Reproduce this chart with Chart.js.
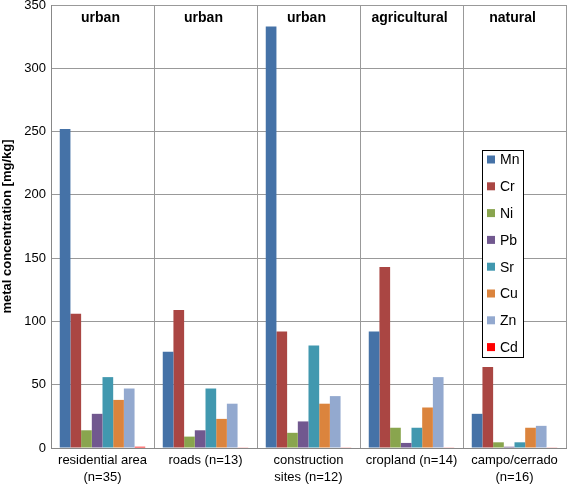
<!DOCTYPE html>
<html>
<head>
<meta charset="utf-8">
<script src="https://cdn.jsdelivr.net/npm/chart.js@4.4.1/dist/chart.umd.min.js"></script>
<style>
  html, body { margin: 0; padding: 0; background: #fff; }
  #wrap { width: 568px; height: 484px; }
</style>
</head>
<body>
<div id="wrap"><canvas id="metals" width="568" height="484"></canvas></div>
<script>
const sites = [['residential area', '(n=35)'], 'roads (n=13)', ['construction', 'sites (n=12)'], 'cropland (n=14)', ['campo/cerrado', '(n=16)']];
const landUse = ['urban', 'urban', 'urban', 'agricultural', 'natural'];
const metals = ['Mn', 'Cr', 'Ni', 'Pb', 'Sr', 'Cu', 'Zn', 'Cd'];

const mn = [252, 76, 333, 92, 27];
const cr = [106, 109, 92, 143, 64];
const ni = [14, 9, 12, 16, 4.5];
const pb = [27, 14, 21, 4, 1];
const sr = [56, 47, 81, 16, 4.5];
const cu = [38, 23, 35, 32, 16];
const zn = [47, 35, 41, 56, 17.5];
const cd = [1, 0.5, 0.5, 0.5, 0.5];

const yTicks = [0, 50, 100, 150, 200, 250, 300, 350];

const series = [mn, cr, ni, pb, sr, cu, zn, cd];
const colors = ['#4572A7', '#AA4643', '#89A54E', '#71588F', '#4198AF', '#DB843D', '#93A9CF', '#FF0000'];

const font = 'Liberation Sans, Arial, sans-serif';

// land use labels at the top of each group + boxed legend inside plot
const overlay = {
  id: 'overlay',
  afterDatasetsDraw(chart) {
    const ctx = chart.ctx;
    const x = chart.scales.x;
    const area = chart.chartArea;
    ctx.save();
    ctx.fillStyle = '#000';
    ctx.font = 'bold 14px ' + font;
    ctx.textAlign = 'center';
    ctx.textBaseline = 'middle';
    landUse.forEach((t, i) => {
      ctx.fillText(t, x.getPixelForValue(i) - 2, area.top + 13);
    });

    // legend
    const lx = 482, ly = 150, lw = 41, lh = 207;
    ctx.fillStyle = '#fff';
    ctx.fillRect(lx, ly, lw, lh);
    ctx.strokeStyle = '#000';
    ctx.lineWidth = 1;
    ctx.strokeRect(lx + 0.5, ly + 0.5, lw, lh);
    ctx.font = '14px ' + font;
    ctx.textAlign = 'left';
    chart.data.datasets.forEach((ds, i) => {
      const cy = ly + 9.5 + i * 26.8;
      ctx.fillStyle = ds.backgroundColor;
      ctx.fillRect(lx + 5, cy - 4, 8, 8);
      ctx.fillStyle = '#000';
      ctx.fillText(ds.label, lx + 18, cy + 1);
    });
    ctx.restore();
  }
};

new Chart(document.getElementById('metals'), {
  type: 'bar',
  data: {
    labels: sites,
    datasets: metals.map((m, i) => ({
      label: m,
      data: series[i],
      backgroundColor: colors[i],
      borderWidth: 0,
      barPercentage: 1,
      categoryPercentage: 0.83
    }))
  },
  options: {
    responsive: false,
    animation: false,
    layout: { padding: { top: 0, right: 2, left: 0, bottom: 0 } },
    plugins: {
      legend: { display: false },
      tooltip: { enabled: false }
    },
    scales: {
      x: {
        grid: { offset: true, color: '#999', drawTicks: false },
        border: { color: '#888' },
        ticks: {
          color: '#000',
          font: { family: font, size: 13, lineHeight: 1.3 },
          padding: 4,
          maxRotation: 0,
          autoSkip: false
        },
        afterFit(scale) { scale.height = 36; }
      },
      y: {
        min: 0,
        max: 350,
        afterBuildTicks(scale) { scale.ticks = yTicks.map(v => ({ value: v })); },
        grid: { color: '#999', drawTicks: false },
        border: { color: '#888' },
        ticks: {
          color: '#000',
          font: { family: font, size: 13 },
          padding: 5
        },
        title: {
          display: true,
          text: 'metal concentration [mg/kg]',
          color: '#000',
          font: { family: font, size: 13, weight: 'bold' },
          padding: 0
        },
        afterFit(scale) {
          scale.width = 51;
          scale.paddingTop = 5;
          scale.paddingBottom = 0;
        }
      }
    }
  },
  plugins: [overlay]
});
</script>
</body>
</html>
